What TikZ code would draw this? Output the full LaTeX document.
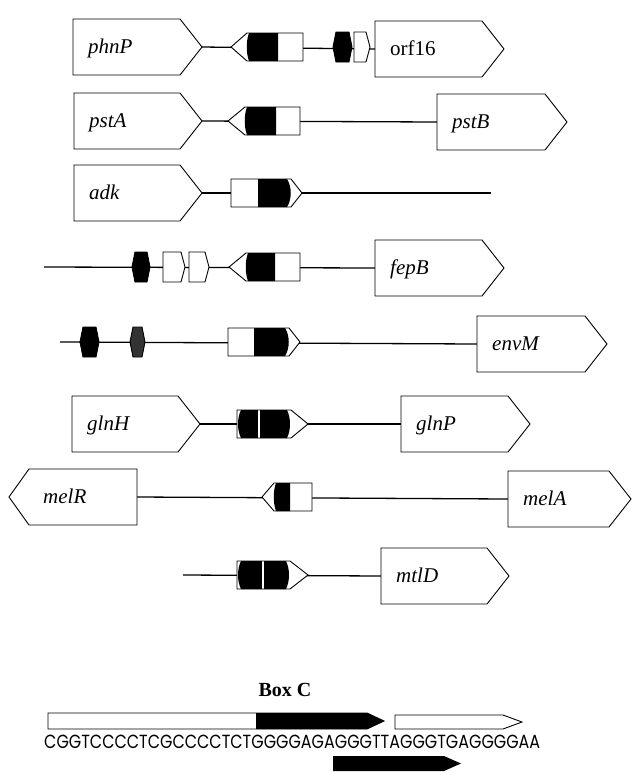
\documentclass[tikz,border=0pt]{standalone}
\usepackage{fontspec}
\usepackage{graphicx}
\setmainfont{Liberation Serif}
\newfontfamily\seqfont{Poppins}
\pgfdeclarelayer{bg}
\pgfsetlayers{bg,main}
\tikzset{
  genebox/.style={draw=black, fill=white, line width=0.9pt, line join=miter},
  sitebox/.style={draw=black, line width=0.9pt, line join=miter},
  backbone/.style={draw=black, line width=1.3pt},
  genelabel/.style={anchor=base west, inner sep=0pt, font=\fontsize{21}{21}\selectfont\itshape},
}
% gene pointing right: name, left x, tip x, centre y, label
\newcommand\geneR[5]{%
  \draw[genebox] (#2,#4-28) -- (#3-22,#4-28) -- (#3,#4) -- (#3-22,#4+28) -- (#2,#4+28) -- cycle;
  \coordinate (#1-w) at (#2,#4);
  \coordinate (#1-e) at (#3,#4);
  \node[genelabel] (#1) at (#2+15,#4+6) {#5};
}
% gene pointing left: name, tip x, right x, centre y, label
\newcommand\geneL[5]{%
  \draw[genebox] (#2,#4) -- (#2+20,#4-28) -- (#3,#4-28) -- (#3,#4+28) -- (#2+20,#4+28) -- cycle;
  \coordinate (#1-w) at (#2,#4);
  \coordinate (#1-e) at (#3,#4);
  \node[genelabel] (#1) at (#2+34,#4+6) {#5};
}
% site pointing left: name, tip, body start, black end, body end, y
\newcommand\siteL[6]{%
  \fill[white] (#2,#6) -- (#3,#6-14) -- (#5,#6-14) -- (#5,#6+14) -- (#3,#6+14) -- cycle;
  \fill[black] (#3+2,#6-14) .. controls (#3-1,#6-6) and (#3-1,#6+6) .. (#3+2,#6+14) -- (#4,#6+14) -- (#4,#6-14) -- cycle;
  \draw[sitebox] (#2,#6) -- (#3,#6-14) -- (#5,#6-14) -- (#5,#6+14) -- (#3,#6+14) -- cycle;
  \coordinate (#1-w) at (#2,#6);
  \coordinate (#1-e) at (#5,#6);
}
% site pointing right: name, body start, black start, body end, tip, y
\newcommand\siteR[6]{%
  \fill[white] (#2,#6-14) -- (#4,#6-14) -- (#5,#6) -- (#4,#6+14) -- (#2,#6+14) -- cycle;
  \fill[black] (#3,#6-14) -- (#4-4,#6-14) .. controls (#4+1,#6-6) and (#4+1,#6+6) .. (#4-4,#6+14) -- (#3,#6+14) -- cycle;
  \draw[sitebox] (#2,#6-14) -- (#4,#6-14) -- (#5,#6) -- (#4,#6+14) -- (#2,#6+14) -- cycle;
  \coordinate (#1-w) at (#2,#6);
  \coordinate (#1-e) at (#5,#6);
}
% double site pointing right: name, body start, body end, tip, gap x, y
\newcommand\siteD[6]{%
  \fill[white] (#2,#6-14) -- (#3,#6-14) -- (#4,#6) -- (#3,#6+14) -- (#2,#6+14) -- cycle;
  \fill[black] (#2+4,#6-14) .. controls (#2,#6-6) and (#2,#6+6) .. (#2+4,#6+14) -- (#3-4,#6+14) .. controls (#3,#6+6) and (#3,#6-6) .. (#3-4,#6-14) -- cycle;
  \fill[white] (#5-1,#6-14) rectangle (#5+1,#6+14);
  \draw[sitebox] (#2,#6-14) -- (#3,#6-14) -- (#4,#6) -- (#3,#6+14) -- (#2,#6+14) -- cycle;
  \coordinate (#1-w) at (#2,#6);
  \coordinate (#1-e) at (#4,#6);
}
% small hexagon: name, x1, x2, y, fill colour
\newcommand\hexbox[5]{%
  \filldraw[sitebox, fill=#5] (#2,#4) -- (#2+3,#4-15) -- (#3-3,#4-15) -- (#3,#4) -- (#3-3,#4+15) -- (#2+3,#4+15) -- cycle;
  \coordinate (#1) at ({(#2+#3)/2},#4);
}
% small open pentagon: name, x1, x2, tip, y
\newcommand\pentR[5]{%
  \filldraw[sitebox, fill=white] (#2,#5-15) -- (#3,#5-15) -- (#4,#5) -- (#3,#5+15) -- (#2,#5+15) -- cycle;
  \coordinate (#1) at ({(#2+#4)/2},#5);
}
\begin{document}
\begin{tikzpicture}[x=1pt, y=-1pt]
\useasboundingbox (0,0) rectangle (633,772);

% phnP -- orf16
\geneR{phnP}{73}{202}{47}{phnP}
\siteL{pA}{231}{247}{278}{303}{47}
\hexbox{pB}{333}{352}{47}{black}
\pentR{pC}{354}{366}{370}{47}
\geneR{orf}{375}{504}{49}{\upshape orf16}

% pstA -- pstB
\geneR{pstA}{74}{202}{121}{pstA}
\siteL{sA}{228}{245}{276}{300}{121}
\geneR{pstB}{437}{567}{122}{pstB}

% adk
\geneR{adk}{74}{202}{193}{adk}
\siteR{sB}{231}{258}{291}{302}{193}
\coordinate (adk-end) at (491,193);

% fepB
\coordinate (fep-start) at (44,267);
\hexbox{f1}{132}{150}{267}{black}
\pentR{f2}{163}{181}{185}{267}
\pentR{f3}{189}{205}{209}{267}
\siteL{f4}{229}{246}{275}{300}{267}
\geneR{fepB}{375}{504}{268}{fepB}

% envM
\coordinate (env-start) at (60,342);
\hexbox{e1}{80}{99}{342}{black}
\hexbox{e2}{130}{145}{342}{black!80}
\siteR{e3}{228}{254}{289}{300}{342}
\geneR{envM}{477}{607}{344}{envM}

% glnH -- glnP
\geneR{glnH}{72}{200}{424}{glnH}
\siteD{g1}{237}{291}{308}{259}{424}
\geneR{glnP}{401}{530}{424}{glnP}

% melR -- melA
\geneL{melR}{9}{137}{497}{melR}
\siteL{m1}{262}{274}{290}{312}{497}
\geneR{melA}{508}{631}{499}{melA}

% mtlD
\coordinate (mtl-start) at (183,575);
\siteD{t1}{237}{290}{308}{263}{575}
\geneR{mtlD}{381}{509}{576}{mtlD}

% DNA backbones behind the boxes
\begin{pgfonlayer}{bg}
  \draw[backbone] (phnP-e) -- (orf-w);
  \draw[backbone] (pstA-e) -- (pstB-w);
  \draw[backbone] (adk-e) -- (adk-end);
  \draw[backbone] (fep-start) -- (fepB-w);
  \draw[backbone] (env-start) -- (envM-w);
  \draw[backbone] (glnH-e) -- (glnP-w);
  \draw[backbone] (melR-e) -- (melA-w);
  \draw[backbone] (mtl-start) -- (mtlD-w);
\end{pgfonlayer}

% Box C sequence
\node[anchor=base, inner sep=0pt, font=\fontsize{20}{20}\selectfont\bfseries] (boxc) at (285,696) {Box C};
\draw[sitebox, fill=white] (48,713) -- (367,713) -- (384,721) -- (367,729) -- (48,729) -- cycle;
\fill[black] (256,713) -- (367,713) -- (384,721) -- (367,729) -- (256,729) -- cycle;
\draw[sitebox, fill=white] (395,715) -- (503,715) -- (522,722) -- (503,729) -- (395,729) -- cycle;
\node[anchor=base west, inner sep=0pt] (seq) at (44,748)
  {\resizebox{496pt}{\height}{\seqfont\fontsize{19}{19}\selectfont CGGTCCCCTCGCCCCTCTGGGGAGAGGGTTAGGGTGAGGGGAA}};
\fill[black] (333,756) -- (444,756) -- (461,763.5) -- (444,771) -- (333,771) -- cycle;
\end{tikzpicture}
\end{document}
